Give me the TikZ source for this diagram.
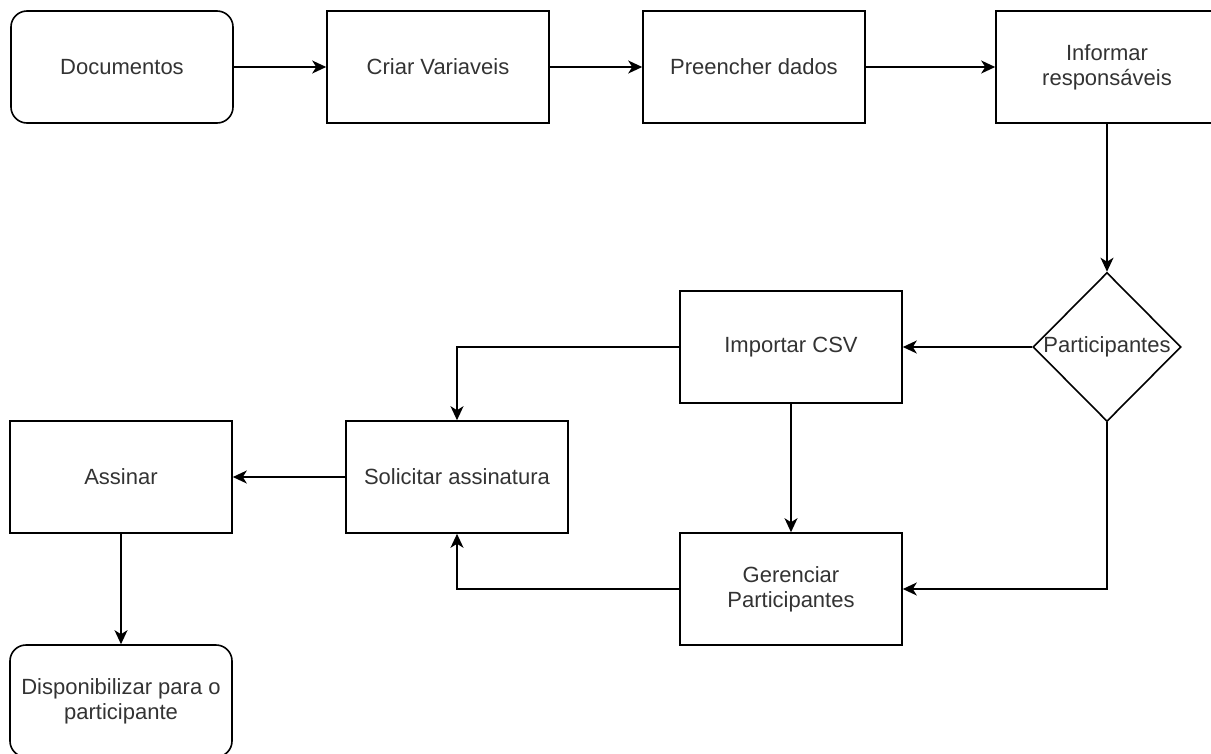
\documentclass[tikz,border=0pt]{standalone}
\usepackage{fontspec}
\setmainfont{Liberation Sans}
\usepackage{tikz}
\usetikzlibrary{shapes.geometric,arrows.meta}
\tikzstyle{caixa}=[draw, line width=1.6pt, minimum width=222pt, minimum height=112pt, inner sep=0pt, align=center, text=black!80, font=\fontsize{22}{25}\selectfont]
\tikzstyle{caixaredonda}=[caixa, rounded corners=16pt]
\tikzstyle{decisao}=[draw, diamond, aspect=1, line width=1.6pt, minimum width=148pt, minimum height=149pt, inner sep=0pt, text=black!80, font=\fontsize{22}{25}\selectfont]
\tikzstyle{seta}=[line width=1.6pt, -{Stealth[length=14pt,width=13pt,inset=4pt]}]

\begin{document}
\begin{tikzpicture}[x=1pt,y=-1pt]
\useasboundingbox (0,0) rectangle (1211,753);
\node[caixaredonda] (doc) at (122,67) {Documentos};
\node[caixa] (criar) at (438,67) {Criar Variaveis};
\node[caixa] (preencher) at (754,67) {Preencher dados};
\node[caixa] (informar) at (1107,67) {Informar\\responsáveis};
\node[decisao] (part) at (1107,347) {Participantes};
\node[caixa] (importar) at (791,347) {Importar CSV};
\node[caixa] (gerenciar) at (791,589) {Gerenciar\\Participantes};
\node[caixa] (solicitar) at (457,477) {Solicitar assinatura};
\node[caixa] (assinar) at (121,477) {Assinar};
\node[caixaredonda] (dispon) at (121,701) {Disponibilizar para o\\participante};
\draw[seta] (doc) -- (criar);
\draw[seta] (criar) -- (preencher);
\draw[seta] (preencher) -- (informar);
\draw[seta] (informar) -- (part);
\draw[seta] (part.west) -- (importar.east);
\draw[seta] (part.south) |- (gerenciar.east);
\draw[seta] (importar.west) -| (solicitar.north);
\draw[seta] (importar) -- (gerenciar);
\draw[seta] (gerenciar.west) -| (solicitar.south);
\draw[seta] (solicitar) -- (assinar);
\draw[seta] (assinar) -- (dispon);
\end{tikzpicture}
\end{document}
